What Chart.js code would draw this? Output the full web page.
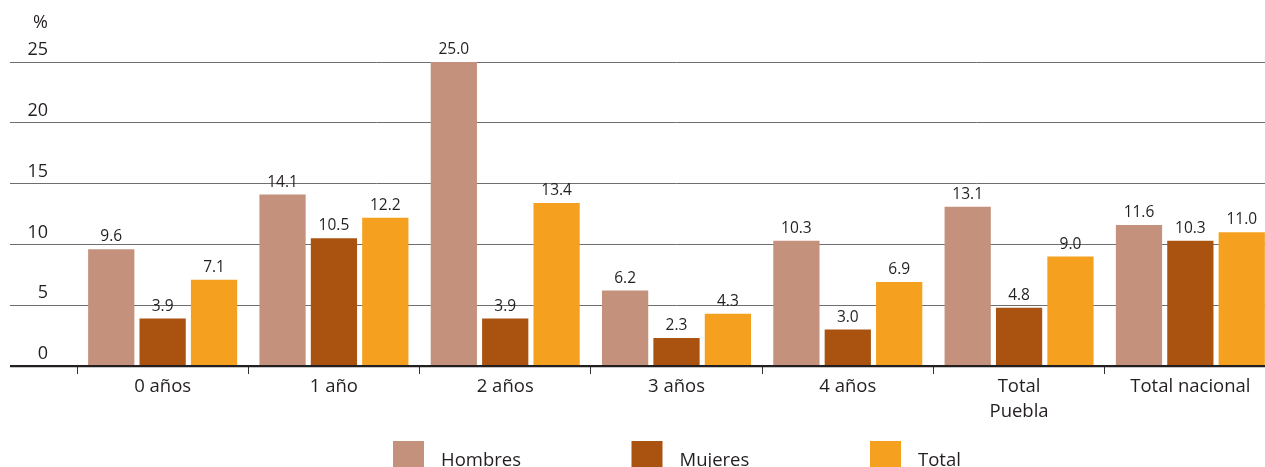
<!DOCTYPE html>
<html lang="es">
<head>
  <meta charset="UTF-8">
  <title>Porcentaje por edad</title>
  <script src="https://cdn.jsdelivr.net/npm/chart.js"></script>
  <style>
    html, body {
      margin: 0;
      padding: 0;
      overflow: hidden;
      background: #fff;
    }
    .chart-box {
      width: 1280px;
      height: 467px;
      position: relative;
    }
  </style>
</head>
<body>
  <div class="chart-box">
    <canvas id="ageChart"></canvas>
  </div>
  <script>
    // Data
    const categories = ['0 años', '1 año', '2 años', '3 años', '4 años', ['Total', 'Puebla'], 'Total nacional'];
    const hombres = [9.6, 14.1, 25.0, 6.2, 10.3, 13.1, 11.6];
    const mujeres = [3.9, 10.5, 3.9, 2.3, 3.0, 4.8, 10.3];
    const total = [7.1, 12.2, 13.4, 4.3, 6.9, 9.0, 11.0];
    const seriesNames = ['Hombres', 'Mujeres', 'Total'];
    const seriesColors = ['#C4917C', '#AA5310', '#F5A11F'];
    const yMin = 0, yMax = 25, yStep = 5;

    const FONT = '"Open Sans", "Noto Sans", sans-serif';
    const TEXT = '#231F20';

    // value labels above bars
    const barLabels = {
      id: 'barLabels',
      afterDatasetsDraw(chart) {
        const ctx = chart.ctx;
        ctx.save();
        ctx.font = '15.5px ' + FONT;
        ctx.fillStyle = TEXT;
        ctx.textAlign = 'center';
        ctx.textBaseline = 'alphabetic';
        chart.data.datasets.forEach((ds, i) => {
          chart.getDatasetMeta(i).data.forEach((bar, j) => {
            ctx.fillText(ds.data[j].toFixed(1), bar.x, bar.y - 8);
          });
        });
        ctx.restore();
      }
    };

    // "%" unit and the legend row at the bottom
    const extras = {
      id: 'extras',
      afterDraw(chart) {
        const ctx = chart.ctx;
        ctx.save();
        ctx.fillStyle = TEXT;
        ctx.font = '18px ' + FONT;
        ctx.textAlign = 'right';
        ctx.textBaseline = 'alphabetic';
        ctx.fillText('%', 48, 28);

        const x0 = chart.width / 2 - 247;
        const step = 238.5;
        ctx.font = '18.5px ' + FONT;
        ctx.textAlign = 'left';
        chart.data.datasets.forEach((ds, i) => {
          const x = x0 + i * step;
          ctx.fillStyle = ds.backgroundColor;
          ctx.fillRect(x, 441, 31, 26);
          ctx.fillStyle = TEXT;
          ctx.fillText(ds.label, x + 48, 466);
        });
        ctx.restore();
      }
    };

    new Chart(document.getElementById('ageChart'), {
      type: 'bar',
      data: {
        labels: categories,
        datasets: [
          { label: seriesNames[0], data: hombres, backgroundColor: seriesColors[0] },
          { label: seriesNames[1], data: mujeres, backgroundColor: seriesColors[1] },
          { label: seriesNames[2], data: total, backgroundColor: seriesColors[2] }
        ]
      },
      options: {
        responsive: true,
        maintainAspectRatio: false,
        animation: false,
        datasets: {
          bar: { categoryPercentage: 0.9, barPercentage: 0.9 }
        },
        layout: {
          padding: { top: 62, left: 10, right: 4, bottom: 0 }
        },
        plugins: {
          legend: { display: false },
          tooltip: { enabled: false }
        },
        scales: {
          x: {
            border: { display: false },
            grid: {
              drawOnChartArea: false,
              drawTicks: true,
              tickLength: 8,
              color: '#333',
              lineWidth: 1
            },
            ticks: {
              color: TEXT,
              font: { family: FONT, size: 18.5, lineHeight: 1.32 },
              padding: 1,
              maxRotation: 0,
              autoSkip: false
            },
            afterFit(scale) { scale.height = 101; }
          },
          y: {
            min: yMin,
            max: yMax,
            border: { display: false },
            grid: {
              drawTicks: true,
              tickLength: 67,
              color: ctx => ctx.tick && ctx.tick.value === 0 ? '#231F20' : '#6e6e6e',
              lineWidth: ctx => ctx.tick && ctx.tick.value === 0 ? 2.2 : 1
            },
            ticks: {
              stepSize: yStep,
              color: TEXT,
              font: { family: FONT, size: 18 },
              padding: -38,
              labelOffset: -12
            },
            afterFit(scale) { scale.width = 67; }
          }
        }
      },
      plugins: [barLabels, extras]
    });
  </script>
</body>
</html>
